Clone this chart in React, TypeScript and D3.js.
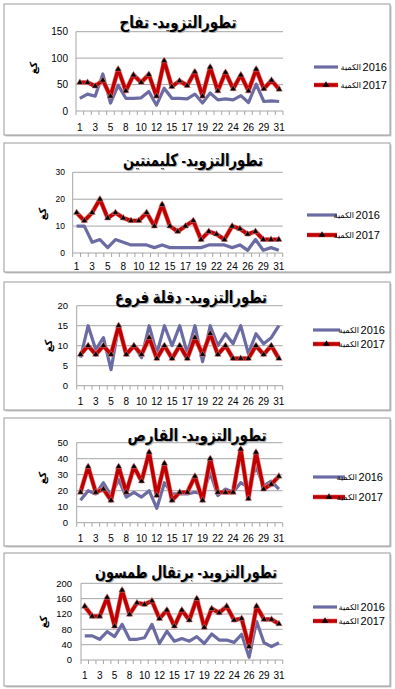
import React from "react";
import * as d3 from "d3";

// ---- data ----
const days = [1, 2, 3, 4, 5, 6, 8, 9, 10, 11, 12, 13, 15, 16, 17, 18, 19, 20, 22, 23, 24, 25, 26, 27, 29, 30, 31];
const shownDayLabels = [1, 3, 5, 8, 10, 12, 15, 17, 19, 22, 24, 26, 29, 31];

const titles = [
  "تطورالتزويد- تفاح",
  "تطورالتزويد- كليمنتين",
  "تطورالتزويد- دقلة فروع",
  "تطورالتزويد- القارص",
  "تطورالتزويد- برتقال طمسون",
];

const seriesYears = ["2016", "2017"];
const seriesLabel = "الكمية";
const unitLabel = "كغ";

const apple2016 = [24, 32, 28, 70, 15, 49, 24, 24, 25, 37, 11, 43, 24, 24, 23, 32, 15, 34, 21, 23, 21, 29, 16, 51, 18, 19, 18];
const apple2017 = [54, 54, 47, 58, 28, 79, 38, 68, 54, 69, 28, 95, 46, 57, 48, 74, 28, 83, 38, 73, 42, 68, 38, 79, 42, 58, 41];

const clem2016 = [10, 10, 4, 5, 2, 5, 4, 3, 3, 3, 2, 3, 2, 2, 2, 2, 2, 3, 3, 3, 2, 3, 1, 5, 1, 2, 1];
const clem2017 = [15, 12, 15, 20, 13, 15, 13, 12, 12, 15, 10, 18, 10, 8, 10, 12, 5, 8, 7, 5, 10, 9, 7, 8, 5, 5, 5];

const dates2016 = [7, 15, 9, 12, 4, 15, 8, 10, 7, 15, 8, 15, 10, 15, 8, 15, 6, 15, 10, 13, 10.5, 15, 8, 13, 10.5, 12, 15];
const dates2017 = [7.8, 10, 7.8, 10, 7.8, 15, 7.8, 10, 7.8, 12, 6.8, 10, 6.8, 10, 6.8, 12, 7.8, 13, 7.8, 10, 6.8, 6.8, 6.8, 10, 7.8, 10, 6.8];

const lemon2016 = [14, 20, 18, 25, 17, 27, 16, 19, 16, 20, 9, 25, 18, 18, 18, 19, 18, 31, 17, 21, 19, 25, 22, 35, 23, 26, 21];
const lemon2017 = [19, 35, 19, 21, 14, 35, 19, 35, 26, 44, 17, 37, 14, 19, 19, 29, 14, 40, 19, 19, 19, 46, 15, 44, 21, 24, 29];

const orange2016 = [63, 63, 54, 74, 61, 93, 54, 54, 58, 93, 43, 75, 49, 56, 49, 61, 43, 68, 52, 52, 46, 67, 7, 101, 45, 35, 45];
const orange2017 = [140, 114, 114, 163, 88, 182, 119, 149, 145, 154, 108, 130, 88, 130, 104, 160, 85, 134, 123, 140, 104, 108, 35, 140, 106, 106, 94];

const series2016 = [apple2016, clem2016, dates2016, lemon2016, orange2016];
const series2017 = [apple2017, clem2017, dates2017, lemon2017, orange2017];

const yTicks = [
  [0, 50, 100, 150],
  [0, 10, 20, 30],
  [0, 5, 10, 15, 20],
  [0, 10, 20, 30, 40, 50],
  [0, 40, 80, 120, 160, 200],
];

// ---- layout (positions only) ----
const layouts = [
  { box: [4, 4, 386, 131], tx: 178, ty: 28, tw: 117, px0: 76, px1: 283, pyT: 31.7, pyB: 111, ylx: 68, yfs: 10, ux: 33, uy: 68, xly: 131, ly1: 67, ly2: 85, sx0: 314, sx1: 338, te: 387 },
  { box: [4, 143, 386, 129], tx: 193, ty: 166, tw: 140, px0: 72.7, px1: 282.7, pyT: 172.3, pyB: 253, ylx: 65, yfs: 8.5, ux: 42, uy: 214, xly: 270, ly1: 215, ly2: 235, sx0: 307, sx1: 337, te: 380 },
  { box: [4, 282, 386, 128], tx: 191, ty: 303, tw: 152, px0: 76.7, px1: 282.7, pyT: 305.7, pyB: 385.7, ylx: 68, yfs: 9.5, ux: 48, uy: 346, xly: 404.5, ly1: 330, ly2: 344, sx0: 313, sx1: 340, te: 385 },
  { box: [4, 418, 386, 128], tx: 197, ty: 441, tw: 139, px0: 76.7, px1: 282.7, pyT: 442.7, pyB: 522.7, ylx: 68, yfs: 9.5, ux: 42, uy: 478, xly: 541.5, ly1: 477, ly2: 497, sx0: 313, sx1: 345, te: 383 },
  { box: [4, 553, 386, 133], tx: 186, ty: 578, tw: 182, px0: 81, px1: 282.7, pyT: 583.3, pyB: 660, ylx: 72, yfs: 9.5, ux: 43, uy: 622, xly: 679, ly1: 607, ly2: 621, sx0: 313, sx1: 337, te: 385 },
];

const BLUE = "#6c6ca4";
const RED = "#c00000";
const HALO = "#e89090";
const GRID = "#a6a6a6";
const FONT = "Arial, 'Liberation Sans', 'DejaVu Sans', sans-serif";

const tri = d3.symbol().type(d3.symbolTriangle).size(18)();

function Panel({ i }: { i: number }) {
  const L = layouts[i];
  const ticks = yTicks[i];
  const x = d3.scaleBand<number>().domain(days).range([L.px0, L.px1]).padding(0);
  const y = d3.scaleLinear().domain([0, ticks[ticks.length - 1]]).range([L.pyB, L.pyT]);
  const cx = (d: number) => (x(d) as number) + x.bandwidth() / 2;
  const line = d3
    .line<number>()
    .x((_, k) => cx(days[k]))
    .y((v) => y(v));
  const d16 = line(series2016[i]) as string;
  const d17 = line(series2017[i]) as string;
  const boundaries = days.map((d) => x(d) as number).concat([L.px1]);
  const [bx, by, bw, bh] = L.box;

  return (
    <g>
      <rect x={bx + 1.5} y={by + 1.5} width={bw} height={bh} fill="#c8c8c8" />
      <rect x={bx} y={by} width={bw} height={bh} fill="#fff" stroke="#9a9a9a" strokeWidth={1} />
      {ticks.map((t) => (
        <line key={"g" + t} x1={L.px0} x2={L.px1} y1={y(t)} y2={y(t)} stroke={GRID} strokeWidth={1} />
      ))}
      <line x1={L.px0} x2={L.px0} y1={L.pyT} y2={L.pyB} stroke={GRID} strokeWidth={1} />
      {ticks.map((t) => (
        <text key={"yl" + t} x={L.ylx} y={y(t)} dy="0.35em" textAnchor="end" fontSize={L.yfs} fontFamily={FONT} fill="#000">
          {t}
        </text>
      ))}
      {boundaries.map((b, k) => (
        <line key={"xt" + k} x1={b} x2={b} y1={L.pyB} y2={L.pyB + 4} stroke={GRID} strokeWidth={1} />
      ))}
      {shownDayLabels.map((d) => (
        <text key={"xl" + d} x={cx(d)} y={L.xly} textAnchor="middle" fontSize={10} fontFamily={FONT} fill="#000">
          {d}
        </text>
      ))}
      <text
        x={L.ux}
        y={L.uy}
        transform={`rotate(-90 ${L.ux} ${L.uy})`}
        textAnchor="middle"
        dy="0.35em"
        fontSize={10}
        fontWeight="bold"
        fontFamily={FONT}
        fill="#000"
      >
        {unitLabel}
      </text>
      <path d={d16} fill="none" stroke={BLUE} strokeWidth={3.2} strokeLinejoin="round" />
      <path d={d17} fill="none" stroke={HALO} strokeWidth={4.8} strokeLinejoin="round" />
      <path d={d17} fill="none" stroke={RED} strokeWidth={3.6} strokeLinejoin="round" />
      {series2017[i].map((v, k) => (
        <path key={"m" + k} d={tri} transform={`translate(${cx(days[k])},${y(v)})`} fill="#000" stroke="#e88" strokeWidth={0.5} />
      ))}
      <text
        x={L.tx + 1}
        y={L.ty + 1}
        textAnchor="middle"
        fontSize={17}
        fontWeight="bold"
        fontFamily={FONT}
        fill="#b0b0b0"
        textLength={L.tw}
        lengthAdjust="spacingAndGlyphs"
      >
        {titles[i]}
      </text>
      <text
        x={L.tx}
        y={L.ty}
        textAnchor="middle"
        fontSize={17}
        fontWeight="bold"
        fontFamily={FONT}
        fill="#000"
        textLength={L.tw}
        lengthAdjust="spacingAndGlyphs"
      >
        {titles[i]}
      </text>
      <line x1={L.sx0} x2={L.sx1} y1={L.ly1} y2={L.ly1} stroke={BLUE} strokeWidth={3.2} />
      <line x1={L.sx0} x2={L.sx1} y1={L.ly2} y2={L.ly2} stroke={HALO} strokeWidth={4.8} />
      <line x1={L.sx0} x2={L.sx1} y1={L.ly2} y2={L.ly2} stroke={RED} strokeWidth={3.6} />
      <path d={tri} transform={`translate(${(L.sx0 + L.sx1) / 2},${L.ly2})`} fill="#000" />
      {[L.ly1, L.ly2].map((ly, k) => (
        <g key={"lg" + k}>
          <text x={L.te} y={ly} dy="0.35em" textAnchor="end" fontSize={11} fontFamily={FONT} fill="#000">
            {seriesYears[k]}
          </text>
          <text x={L.te - 26} y={ly} dy="0.35em" textAnchor="end" fontSize={8} fontFamily={FONT} fill="#000">
            {seriesLabel}
          </text>
        </g>
      ))}
    </g>
  );
}

export default function App() {
  return (
    <div style={{ position: "absolute", left: 0, top: 0 }}>
      <svg width={395} height={689} style={{ display: "block", background: "#fff" }}>
        {layouts.map((_, i) => (
          <Panel key={i} i={i} />
        ))}
      </svg>
    </div>
  );
}
